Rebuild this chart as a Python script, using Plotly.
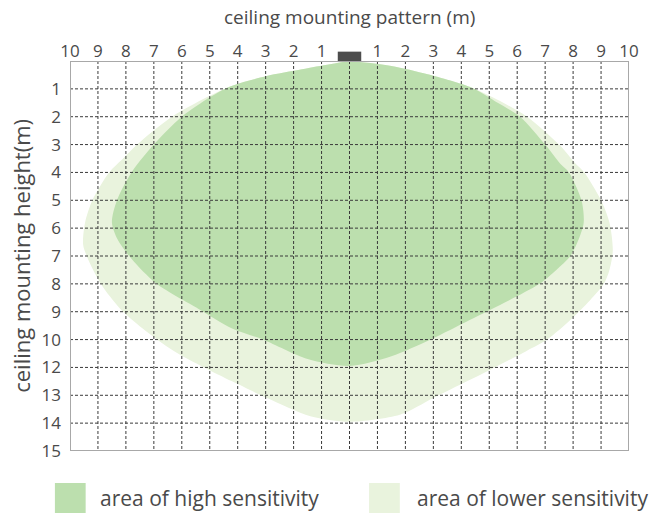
import plotly.graph_objects as go

# ---- data (x in metres from sensor, y in row positions: 0 = ceiling) ----
x_ticks = list(range(-10, 11))
x_ticktext = [str(abs(v)) if v != 0 else "" for v in x_ticks]
y_ticks = list(range(1, 15))
y_ticktext = ["1", "2", "3", "4", "5", "6", "7", "8", "9", "10", "12", "13", "14", "15"]

high_x = [0, 1.5, 2.8, 4.4, 5.3, 6.1, 7.0, 7.55, 7.85, 8.3, 8.38, 8.2, 7.9, 7.4, 6.8, 5.7, 4.3, 2.9, 1.5, 0,
          -1.5, -3.1, -4.2, -5.4, -6.9, -7.8, -8.3, -8.5, -8.32, -7.8, -7.0, -6.0, -4.4, -3.0, -1.7, -0.7, 0]
high_y = [0.02, 0.18, 0.48, 0.97, 1.5, 2.0, 3.0, 3.7, 4.0, 5.0, 5.8, 6.4, 7.0, 7.5, 8.0, 8.6, 9.3, 10.0, 10.6, 10.95,
          10.7, 10.0, 9.6, 8.9, 8.0, 7.1, 6.4, 5.8, 5.0, 4.0, 3.0, 2.0, 0.97, 0.55, 0.3, 0.12, 0.02]

low_x = [0, 1.5, 2.8, 4.4, 5.5, 6.35, 7.5, 8.1, 8.4, 9.0, 9.3, 9.42, 9.3, 9.1, 8.6, 7.9, 7.07, 6.35, 5.0, 4.2, 3.0, 1.8, 0,
         -1.4, -2.95, -4.2, -5.2, -6.3, -7.4, -8.2, -8.9, -9.36, -9.53, -9.46, -9.2, -8.6, -8.1, -7.6, -6.35, -4.4, -3.0, -1.7, -0.7, 0]
low_y = [0.02, 0.18, 0.48, 0.97, 1.5, 2.0, 3.0, 3.7, 4.0, 5.0, 5.8, 6.8, 7.5, 8.0, 8.6, 9.3, 10.0, 10.4, 11.1, 11.5, 12.1, 12.7, 12.95,
         12.75, 12.1, 11.5, 11.0, 10.4, 9.6, 8.9, 8.0, 7.1, 6.6, 5.8, 5.0, 4.0, 3.5, 3.0, 2.0, 0.97, 0.55, 0.3, 0.12, 0.02]

legend_labels = ["area of high sensitivity", "area of lower sensitivity"]

HIGH = "#bcdfae"
LOW = "#e9f3dd"
TXT = "#4a4a4a"
FONT = "Open Sans"

fig = go.Figure()
fig.add_trace(go.Scatter(x=low_x, y=low_y, mode="lines", fill="toself", fillcolor=LOW,
                         line=dict(width=0, shape="spline", smoothing=0.8), hoverinfo="skip", showlegend=False))
fig.add_trace(go.Scatter(x=high_x, y=high_y, mode="lines", fill="toself", fillcolor=HIGH,
                         line=dict(width=0, shape="spline", smoothing=0.8), hoverinfo="skip", showlegend=False))

shapes = []
grid_style = dict(color="#3a3a3a", width=1, dash="3px,2px")
for v in x_ticks[1:-1]:
    shapes.append(dict(type="line", xref="x", yref="y", x0=v, x1=v, y0=0, y1=14, line=grid_style, layer="above"))
for v in y_ticks[:-1]:
    shapes.append(dict(type="line", xref="x", yref="y", x0=-10, x1=10, y0=v, y1=v, line=grid_style, layer="above"))
# border
shapes.append(dict(type="rect", xref="x", yref="y", x0=-10, x1=10, y0=0, y1=14,
                   line=dict(color="#a8a8a8", width=2), layer="above"))
# sensor
shapes.append(dict(type="rect", xref="paper", yref="paper", x0=0.5 - 0.021, x1=0.5 + 0.021, y0=1.0, y1=1.024,
                   line=dict(width=0), fillcolor="#4d4d4d", layer="above"))
# legend swatches
shapes.append(dict(type="rect", xref="paper", yref="paper", x0=-0.027, x1=0.028, y0=-0.159, y1=-0.082,
                   line=dict(width=0), fillcolor=HIGH))
shapes.append(dict(type="rect", xref="paper", yref="paper", x0=0.535, x1=0.590, y0=-0.159, y1=-0.082,
                   line=dict(width=0), fillcolor=LOW))

annotations = [
    dict(text="ceiling mounting pattern (m)", xref="paper", yref="paper", x=0.5, y=1.113,
         showarrow=False, font=dict(family=FONT, size=19, color=TXT), xanchor="center", yanchor="middle"),
    dict(text="ceiling mounting height(m)", xref="paper", yref="paper", x=-0.088, y=0.5, textangle=-90,
         showarrow=False, font=dict(family=FONT, size=22, color=TXT), xanchor="center", yanchor="middle"),
    dict(text=legend_labels[0], xref="paper", yref="paper", x=0.050, y=-0.121,
         showarrow=False, font=dict(family=FONT, size=21, color=TXT), xanchor="left", yanchor="middle"),
    dict(text=legend_labels[1], xref="paper", yref="paper", x=0.617, y=-0.121,
         showarrow=False, font=dict(family=FONT, size=21, color=TXT), xanchor="left", yanchor="middle"),
]

fig.update_layout(
    width=653, height=514,
    margin=dict(l=70, r=24, t=61, b=63),
    paper_bgcolor="white", plot_bgcolor="white",
    shapes=shapes, annotations=annotations,
    showlegend=False,
    xaxis=dict(range=[-10, 10], side="top", tickmode="array", tickvals=x_ticks, ticktext=x_ticktext,
               showgrid=False, zeroline=False, showline=False, ticks="",
               tickfont=dict(family=FONT, size=17, color=TXT), fixedrange=True),
    yaxis=dict(range=[14, 0], tickmode="array", tickvals=y_ticks, ticktext=y_ticktext,
               showgrid=False, zeroline=False, showline=False, ticks="",
               tickfont=dict(family=FONT, size=17, color=TXT), ticklabelstandoff=8, fixedrange=True),
)

fig.write_html("out.html", config={"displayModeBar": False},
               post_script="document.body.style.margin='0';document.body.style.overflow='hidden';")
